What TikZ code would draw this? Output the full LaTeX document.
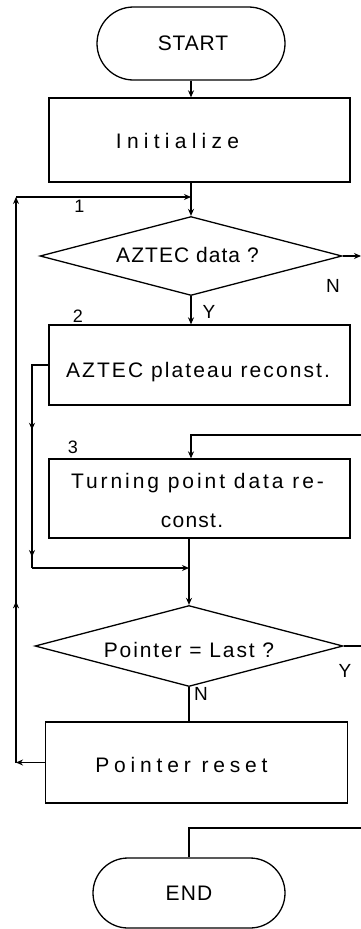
\documentclass[tikz,border=0pt]{standalone}
\usepackage{fontspec}
\setmainfont{Liberation Sans}
\usetikzlibrary{shapes.geometric,shapes.misc,arrows.meta,decorations.markings}
\begin{document}
\begin{tikzpicture}[x=1pt,y=-1pt,line width=1.3pt,
  pill/.style={rounded rectangle, draw, inner sep=0pt},
  procbox/.style={rectangle, draw, inner sep=0pt, minimum width=301pt},
  decision/.style={diamond, draw, inner sep=0pt, aspect=3.8},
  spaced/.style={inner sep=0pt, anchor=base, font={\fontsize{21}{25}\selectfont\addfontfeature{LetterSpace=#1}}},
  lbl/.style={inner sep=0pt, anchor=base, font={\fontsize{19}{23}\selectfont}},
  numlbl/.style={inner sep=0pt, anchor=base, font={\fontsize{18}{22}\selectfont}},
  arr/.style={-{Stealth[length=7pt,width=6pt]}},
  midarr/.style={postaction={decorate, decoration={markings, mark=at position #1 with {\arrow{Stealth[length=7pt,width=6pt]}}}}},
]
\useasboundingbox (0,0) rectangle (361,929);

% shapes
\node[pill, minimum width=188pt, minimum height=73pt] (start) at (191,43.5) {};
\node[procbox, minimum height=84pt] (init) at (199.5,140) {};
\node[decision, minimum width=302pt, minimum height=79pt] (d1) at (191,256) {};
\node[procbox, minimum height=80pt] (box2) at (199.5,365) {};
\node[procbox, minimum height=79pt] (box3) at (199.5,498.5) {};
\node[decision, minimum width=308pt, minimum height=81pt] (d2) at (189,646) {};
\node[procbox, minimum width=302pt, minimum height=81pt] (reset) at (196.5,762.5) {};
\node[pill, minimum width=192pt, minimum height=70pt] (end) at (189,893) {};

% texts
\node[spaced=4] (start-t) at (193,50) {START};
\node[spaced=25] (init-t) at (177.5,148) {Initialize};
\node[spaced=5] (d1-t) at (187.5,262) {AZTEC data ?};
\node[spaced=10] (box2-t) at (198,377) {AZTEC plateau reconst.};
\node[spaced=14] (box3-t1) at (197.5,488) {Turning point data re-};
\node[spaced=6] (box3-t2) at (192,527) {const.};
\node[spaced=9] (d2-t) at (189,657) {Pointer = Last ?};
\node[spaced=23] (reset-t) at (181.5,772) {Pointer reset};
\node[spaced=6] (end-t) at (189,900) {END};

% labels
\node[numlbl] (n1) at (79.5,212) {1};
\node[numlbl] (n2) at (78,322) {2};
\node[numlbl] (n3) at (73,453) {3};
\node[lbl] (lN1) at (333,292) {N};
\node[lbl] (lY1) at (209,318) {Y};
\node[lbl] (lY2) at (345,677) {Y};
\node[lbl] (lN2) at (201,700) {N};

% coordinates
\coordinate (outN) at (361,256);
\coordinate (inR) at (361,435);
\coordinate (outY) at (361,646);
\coordinate (inE) at (361,828);
\coordinate (j1) at (191,197);
\coordinate (j2) at (189,568);
\coordinate (lp) at (16,762.5);
\coordinate (lt) at (16,197);
\coordinate (bl) at (32,365);
\coordinate (bb) at (32,568);

% connectors
\draw[arr] (start.south) -- (start.south |- init.north);
\draw[arr] (d1.north |- init.south) -- (d1.north);
\draw[arr] (d1.south) -- (d1.south |- box2.north);
\draw[arr] (d1.east) -- (outN);
\draw[midarr=0.37, midarr=0.95] (box2.west) -- (bl) -- (bb);
\draw[arr] (bb) -- (j2);
\draw[arr] (inR) -| (d1.south |- box3.north);
\draw[arr] (d2.north |- box3.south) -- (d2.north);
\draw (d2.east) -- (outY);
\draw (d2.south) -- (d2.south |- reset.north);
\draw[arr] (reset.west) -- (lp);
\draw[arr, midarr=0.285] (lp) -- (lt);
\draw[arr] (lt) -- (j1);
\draw (inE) -| (end.north);
\end{tikzpicture}
\end{document}
